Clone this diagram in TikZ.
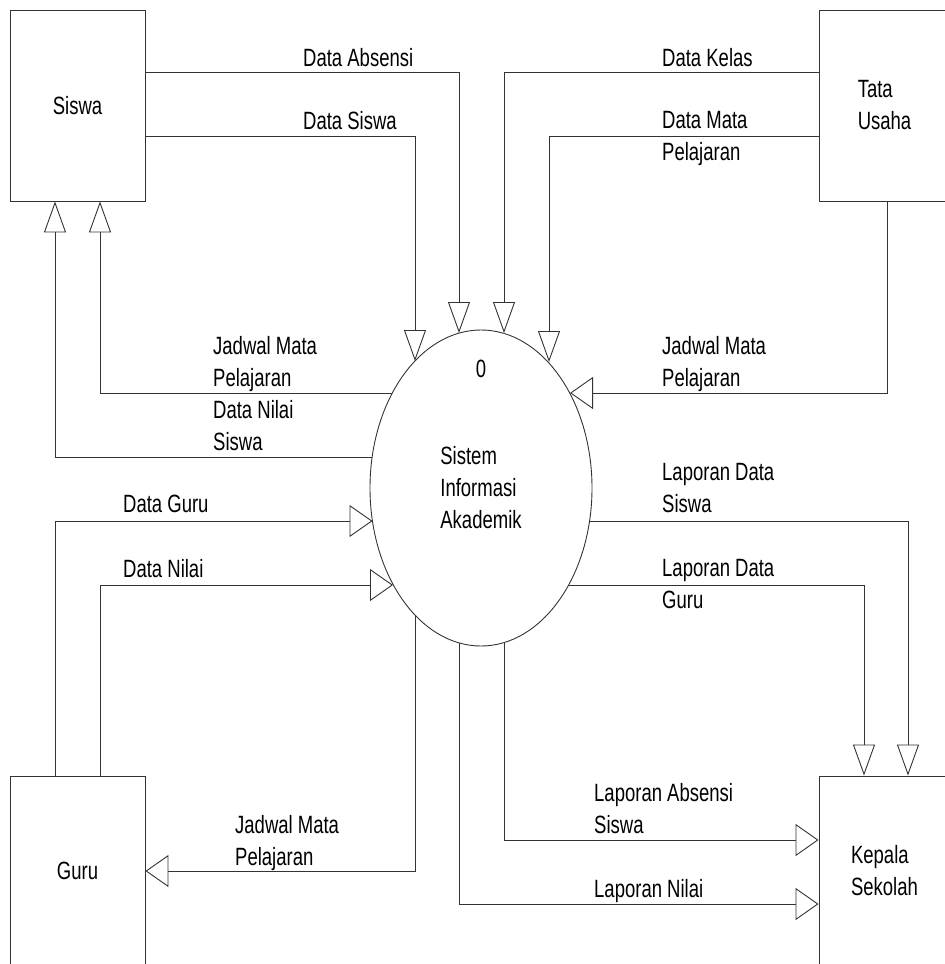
\documentclass[tikz,border=0pt]{standalone}
\usepackage{fontspec}
\setmainfont{Liberation Sans}[FakeStretch=0.74]
\usetikzlibrary{arrows.meta, shapes.geometric}

\begin{document}
\begin{tikzpicture}[x=1pt, y=-1pt,
  font=\fontsize{25pt}{32pt}\selectfont,
  entbox/.style={rectangle, draw=black!80, line width=0.9pt, align=left, inner sep=0pt},
  procnode/.style={ellipse, draw=black!80, line width=0.9pt, minimum width=222pt,
    minimum height=316pt, align=left, inner sep=0pt},
  lbl/.style={anchor=north west, inner sep=0pt, align=left},
  varr/.style={-{Triangle[open, length=31pt, width=22pt]}, line width=0.9pt, draw=black!80},
  harr/.style={-{Triangle[open, length=23pt, width=32pt]}, line width=0.9pt, draw=black!80}
]
  \useasboundingbox (0,0) rectangle (945,964);
  \clip (0,0) rectangle (945,964);

  % entitas luar
  \node[entbox, minimum width=135pt, minimum height=191pt] (siswa)  at (77.5,105.5) {Siswa};
  \node[entbox, minimum width=131pt, minimum height=191pt] (tu)     at (884.5,105.5) {Tata\\Usaha};
  \node[entbox, minimum width=135pt, minimum height=190pt] (guru)   at (77.5,871) {Guru};
  \node[entbox, minimum width=131pt, minimum height=190pt] (kepala) at (884.5,871) {Kepala\\Sekolah};

  % proses
  \node[procnode] (proc) at (481,488) {Sistem\\Informasi\\Akademik};
  \node (procno) at (481,369) {0};

  % titik pada tepi proses
  \coordinate (inAbs) at (459,333);
  \coordinate (inSis) at (415,361);
  \coordinate (inKel) at (504,333);
  \coordinate (inMap) at (549,362);
  \coordinate (outJs) at (392,393);
  \coordinate (outNs) at (372,457);
  \coordinate (inJt)  at (570,393);
  \coordinate (inGu)  at (372.5,521);
  \coordinate (inNi)  at (393,585);
  \coordinate (outJg) at (415,615);
  \coordinate (outLs) at (589.5,521);
  \coordinate (outLg) at (568,585);
  \coordinate (outLa) at (504,643);
  \coordinate (outLn) at (459,643);

  % aliran data
  \draw[varr] ([yshift=-63pt]siswa.north east) -| (inAbs);
  \draw[varr] ([yshift=-127pt]siswa.north east) -| (inSis);
  \draw[varr] ([yshift=-63pt]tu.north west) -| (inKel);
  \draw[varr] ([yshift=-127pt]tu.north west) -| (inMap);
  \draw[varr] (outJs) -| ([xshift=22.5pt]siswa.south);
  \draw[varr] (outNs) -| ([xshift=-22.5pt]siswa.south);
  \draw[harr] ([xshift=2.5pt]tu.south) |- (inJt);
  \draw[harr] ([xshift=-22.5pt]guru.north) |- (inGu);
  \draw[harr] ([xshift=22.5pt]guru.north) |- (inNi);
  \draw[harr] (outJg) |- (guru.east);
  \draw[varr] (outLs) -| ([xshift=23.5pt]kepala.north);
  \draw[varr] (outLg) -| ([xshift=-20.5pt]kepala.north);
  \draw[harr] (outLa) |- ([yshift=31pt]kepala.west);
  \draw[harr] (outLn) |- ([yshift=-33pt]kepala.west);

  % label aliran
  \node[lbl] (lAbs) at (303,48)  {Data Absensi};
  \node[lbl] (lSis) at (303,111) {Data Siswa};
  \node[lbl] (lJs)  at (213,336) {Jadwal Mata\\Pelajaran};
  \node[lbl] (lNs)  at (213,400) {Data Nilai\\Siswa};
  \node[lbl] (lKel) at (662,48)  {Data Kelas};
  \node[lbl] (lMap) at (662,111) {Data Mata\\Pelajaran};
  \node[lbl] (lJt)  at (662,336) {Jadwal Mata\\Pelajaran};
  \node[lbl] (lLs)  at (662,463) {Laporan Data\\Siswa};
  \node[lbl] (lLg)  at (662,559) {Laporan Data\\Guru};
  \node[lbl] (lGu)  at (123,495) {Data Guru};
  \node[lbl] (lNi)  at (123,559) {Data Nilai};
  \node[lbl] (lJg)  at (235,815) {Jadwal Mata\\Pelajaran};
  \node[lbl] (lLa)  at (594,783) {Laporan Absensi\\Siswa};
  \node[lbl] (lLn)  at (594,879) {Laporan Nilai};
\end{tikzpicture}
\end{document}
